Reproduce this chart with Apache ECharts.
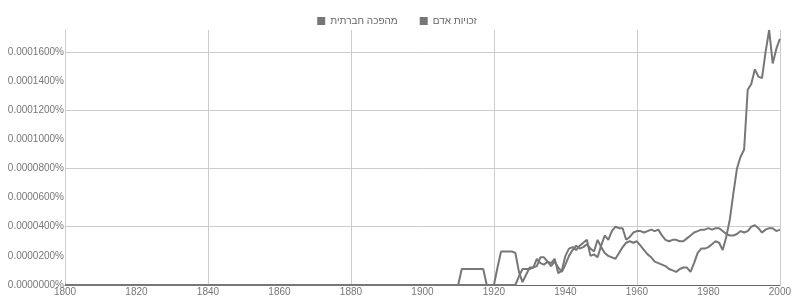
<!DOCTYPE html>
<html lang="he">
  <head>
    <meta charset="UTF-8" />
    <title>Ngram</title>
    <script src="https://cdn.jsdelivr.net/npm/echarts@6/dist/echarts.min.js"></script>
    <style>
      body { margin: 0; background: #fff; }
      #main { width: 794px; height: 297px; }
    </style>
  </head>
  <body>
    <div id="main"></div>
    <script>
      // years: 1800, then every year 1900..2000
      const years = [1800]
      for (let y = 1900; y <= 2000; y++) years.push(y)

      // values in units of 0.000001%
      const socialRevolution = [
        0,
        0, 0, 0, 0, 0, 0, 0, 0, 0, 0, 0,
        11, 11, 11, 11, 11, 11, 11,
        0, 0, 0,
        12, 23, 23, 23, 23, 22,
        9, 2, 7, 12, 12, 13, 19, 19, 16, 15, 18, 8, 10, 20, 25, 26, 24, 27, 29, 31,
        20, 21, 19, 27, 34, 31, 37, 40, 39, 39, 31, 33, 36, 37,
        37, 36, 37, 38, 37, 38, 34, 31, 30, 31, 31, 30, 30, 32, 34, 36, 37, 38, 38, 39,
        38, 39, 39, 37, 35, 34, 34, 35, 37, 36, 37, 40, 41, 39, 36, 38, 39, 39, 37, 38
      ]
      const humanRights = [
        0,
        0, 0, 0, 0, 0, 0, 0, 0, 0, 0, 0, 0, 0, 0, 0, 0, 0, 0, 0, 0, 0, 0, 0, 0, 0, 0, 0,
        6, 11, 11, 11, 12, 18, 15, 14, 16, 13, 16, 12, 9, 14, 20, 24, 27, 25, 26, 28,
        25, 23, 31, 26, 22, 20, 19, 18, 22, 26, 29, 30, 29, 30,
        27, 24, 21, 19, 16, 15, 14, 13, 11, 10, 9, 11, 12, 12, 9, 15, 22, 25, 25, 26,
        28, 30, 29, 24, 33, 45, 63, 80, 88, 93, 134, 138, 148, 143, 142, 160, 175, 152, 162, 169
      ]
      const seriesNames = ['מהפכה חברתית', 'זכויות אדם']

      const fmt = (v) => (v / 1e6).toFixed(7) + '%'
      const pairs = (arr) => years.map((y, i) => [y, arr[i]])

      const chart = echarts.init(document.getElementById('main'))
      const lineColor = '#777'
      const font = 'Arial, "Liberation Sans", sans-serif'

      chart.setOption({
        animation: false,
        backgroundColor: '#fff',
        legend: {
          data: seriesNames,
          top: 11,
          left: 'center',
          icon: 'rect',
          itemWidth: 8,
          itemHeight: 8,
          itemGap: 22,
          textStyle: { fontSize: 10, color: '#666', fontFamily: font }
        },
        grid: { left: 65, right: 12, top: 30, bottom: 10 },
        xAxis: [
          {
            type: 'value', min: 1800, max: 2000, interval: 20,
            axisLine: { lineStyle: { color: '#666', width: 1 } },
            axisTick: { show: false },
            axisLabel: { fontSize: 10, color: '#777', margin: 2, fontFamily: font, formatter: (v) => String(v) },
            splitLine: { show: false }
          },
          {
            type: 'value', min: 1800, max: 2000, interval: 40, position: 'bottom',
            axisLine: { show: false }, axisTick: { show: false }, axisLabel: { show: false },
            splitLine: { show: true, showMinLine: false, lineStyle: { color: '#ccc' } }
          }
        ],
        yAxis: [
          {
            type: 'value', min: 0, max: 175, interval: 20,
            axisLine: { show: true, lineStyle: { color: '#ccc' } },
            axisTick: { show: false },
            axisLabel: { fontSize: 10, color: '#777', margin: 1, fontFamily: font, formatter: fmt, showMaxLabel: false },
            splitLine: { show: false }
          },
          {
            type: 'value', min: 0, max: 175, interval: 40,
            axisLine: { show: false }, axisTick: { show: false }, axisLabel: { show: false },
            splitLine: { show: true, showMinLine: false, showMaxLine: false, lineStyle: { color: '#ccc' } }
          }
        ],
        series: [
          {
            name: seriesNames[0], type: 'line', data: pairs(socialRevolution),
            showSymbol: false, symbol: 'none', color: lineColor,
            lineStyle: { width: 2, color: lineColor }
          },
          {
            name: seriesNames[1], type: 'line', data: pairs(humanRights),
            showSymbol: false, symbol: 'none', color: lineColor,
            lineStyle: { width: 2, color: lineColor }
          }
        ]
      })
    </script>
  </body>
</html>
